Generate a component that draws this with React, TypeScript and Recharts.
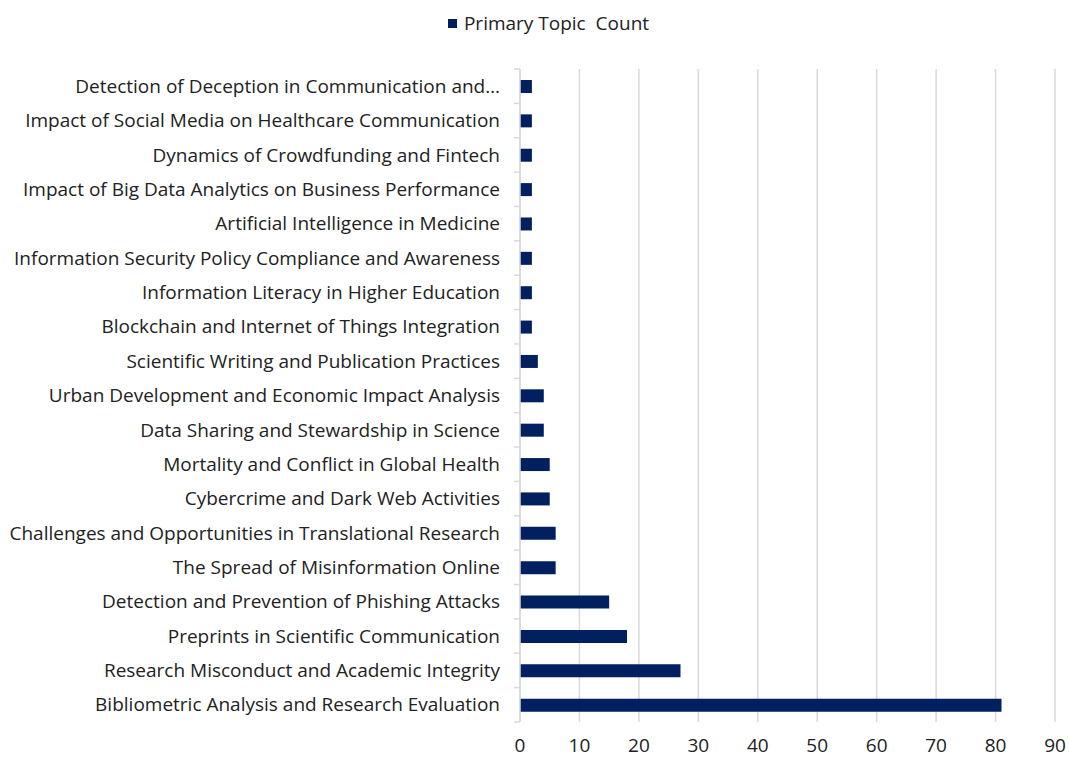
import { BarChart, Bar, XAxis, YAxis, CartesianGrid, Legend } from 'recharts';

const topics = [
  'Detection of Deception in Communication and…',
  'Impact of Social Media on Healthcare Communication',
  'Dynamics of Crowdfunding and Fintech',
  'Impact of Big Data Analytics on Business Performance',
  'Artificial Intelligence in Medicine',
  'Information Security Policy Compliance and Awareness',
  'Information Literacy in Higher Education',
  'Blockchain and Internet of Things Integration',
  'Scientific Writing and Publication Practices',
  'Urban Development and Economic Impact Analysis',
  'Data Sharing and Stewardship in Science',
  'Mortality and Conflict in Global Health',
  'Cybercrime and Dark Web Activities',
  'Challenges and Opportunities in Translational Research',
  'The Spread of Misinformation Online',
  'Detection and Prevention of Phishing Attacks',
  'Preprints in Scientific Communication',
  'Research Misconduct and Academic Integrity',
  'Bibliometric Analysis and Research Evaluation',
];

const counts = [2, 2, 2, 2, 2, 2, 2, 2, 3, 4, 4, 5, 5, 6, 6, 15, 18, 27, 81];

const xTicks = [0, 10, 20, 30, 40, 50, 60, 70, 80, 90];

const data = topics.map((topic, i) => ({ topic, count: counts[i] }));

const FONT = '"Open Sans", "Noto Sans", sans-serif';
const FONT_SIZE = 19;
const TEXT = '#222';
const BAR = '#002060';
const GRID = '#d9d9d9';

const CHART_W = 1069;
const CHART_H = 758;
const MARGIN = { top: 10, right: 14, bottom: 0, left: 0 };
const LEGEND_H = 59;
const X_AXIS_H = 36;
const bandSize = (CHART_H - MARGIN.top - LEGEND_H - X_AXIS_H) / topics.length;

const TopicTick = (props: any) => {
  const { x, y, payload } = props;
  return (
    <g>
      <line x1={x + 14} x2={x + 20} y1={y - bandSize / 2} y2={y - bandSize / 2} stroke={GRID} strokeWidth={1.5} />
      {payload.index === topics.length - 1 && (
        <line x1={x + 14} x2={x + 20} y1={y + bandSize / 2} y2={y + bandSize / 2} stroke={GRID} strokeWidth={1.5} />
      )}
      <text x={x} y={y} dy="0.35em" textAnchor="end" fill={TEXT} fontSize={FONT_SIZE} fontFamily={FONT}>
        {payload.value}
      </text>
    </g>
  );
};

const LegendContent = () => (
  <div style={{ display: 'flex', justifyContent: 'center', alignItems: 'center', fontFamily: FONT, fontSize: FONT_SIZE, color: TEXT, paddingLeft: 42 }}>
    <span style={{ display: 'inline-block', width: 9, height: 9, background: BAR, marginRight: 7 }} />
    <span style={{ whiteSpace: 'pre' }}>Primary Topic  Count</span>
  </div>
);

export default function App() {
  return (
    <div style={{ position: 'absolute', left: 0, top: 0, background: '#fff' }}>
      <BarChart width={CHART_W} height={CHART_H} data={data} layout="vertical" margin={MARGIN} barSize={13}>
        <CartesianGrid horizontal={false} stroke={GRID} strokeWidth={1.5} />
        <XAxis
          type="number"
          domain={[0, 90]}
          ticks={xTicks}
          axisLine={false}
          tickLine={false}
          tickSize={0}
          tickMargin={17}
          height={X_AXIS_H}
          tick={{ fill: TEXT, fontSize: FONT_SIZE, fontFamily: FONT }}
        />
        <YAxis
          type="category"
          dataKey="topic"
          width={520}
          interval={0}
          axisLine={{ stroke: GRID, strokeWidth: 1.5 }}
          tickLine={false}
          tickSize={6}
          tickMargin={14}
          tick={<TopicTick />}
        />
        <Legend verticalAlign="top" height={LEGEND_H} content={<LegendContent />} />
        <Bar dataKey="count" name="Primary Topic  Count" fill={BAR} isAnimationActive={false} />
      </BarChart>
    </div>
  );
}
